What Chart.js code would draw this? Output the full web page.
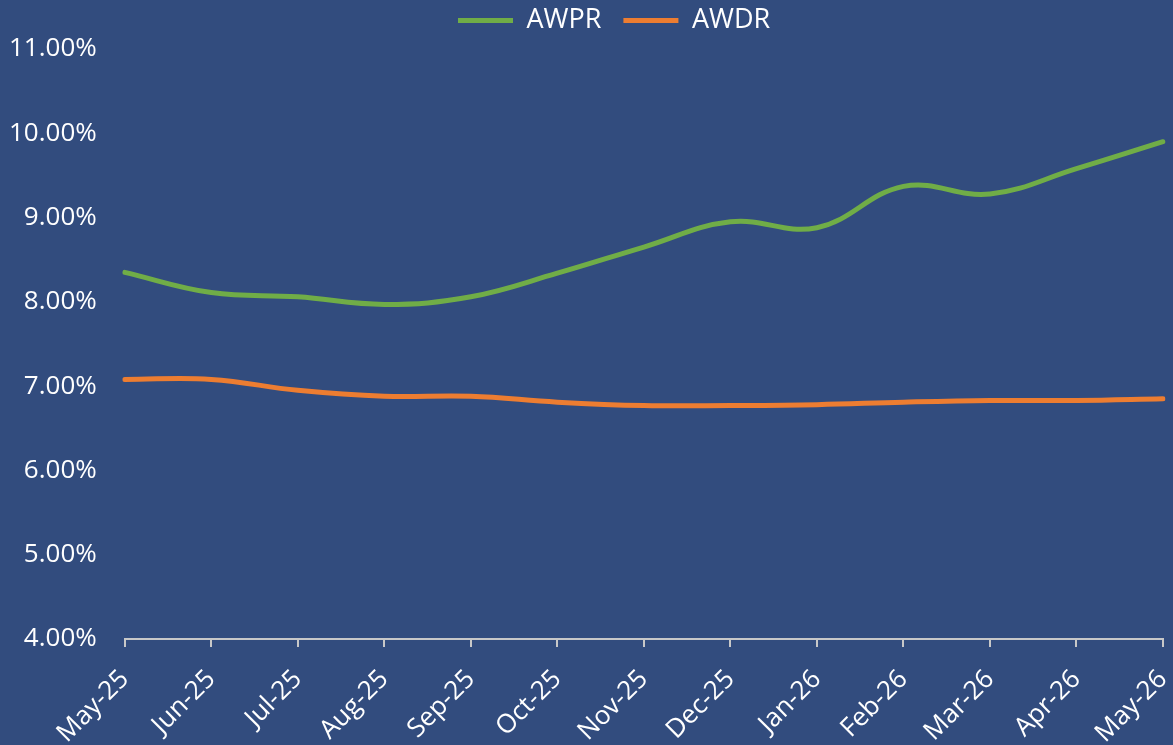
<!DOCTYPE html>
<html>
<head>
<meta charset="utf-8">
<script src="https://cdn.jsdelivr.net/npm/chart.js@4.4.1/dist/chart.umd.min.js"></script>
<style>
html,body{margin:0;padding:0;background:#324C7E;}
#wrap{width:1173px;height:745px;position:relative;}
</style>
</head>
<body>
<div id="wrap"><canvas id="c" width="1173" height="745"></canvas></div>
<script>
const categories = ["May-25","Jun-25","Jul-25","Aug-25","Sep-25","Oct-25","Nov-25","Dec-25","Jan-26","Feb-26","Mar-26","Apr-26","May-26"];
const awpr = [8.35, 8.11, 8.06, 7.97, 8.06, 8.34, 8.65, 8.95, 8.88, 9.37, 9.28, 9.58, 9.90];
const awdr = [7.08, 7.08, 6.95, 6.88, 6.88, 6.81, 6.77, 6.77, 6.78, 6.81, 6.83, 6.83, 6.85];
const yMin = 4, yMax = 11, yStep = 1;

const fontFam = "'Open Sans', 'Noto Sans', sans-serif";

const legendShift = {
  id:'legendShift',
  afterLayout(chart){
    const lg = chart.legend;
    if (!lg || !lg.lineWidths) return;
    const startNow = lg.left + (lg.width - lg.lineWidths[0]) / 2;
    const dx = 447 - startNow;
    lg.left += dx; lg.right += dx;
    lg.top -= 5; lg.bottom -= 5;
  }
};

new Chart(document.getElementById('c'), {
  type: 'line',
  data: {
    labels: categories,
    datasets: [
      {label:'AWPR', data: awpr, borderColor:'#70AD47', backgroundColor:'#70AD47', borderWidth:5, pointRadius:0, tension:0.4, borderCapStyle:'round', fill:false},
      {label:'AWDR', data: awdr, borderColor:'#ED7D31', backgroundColor:'#ED7D31', borderWidth:5, pointRadius:0, tension:0.4, borderCapStyle:'round', fill:false}
    ]
  },
  plugins:[legendShift],
  options: {
    responsive:false,
    animation:false,
    layout:{padding:{left:-19, right:10, top:-10, bottom:0}},
    plugins:{
      legend:{
        position:'top',
        labels:{
          color:'#ffffff',
          font:{family:fontFam, size:27},
          usePointStyle:true,
          pointStyle:'line',
          pointStyleWidth:55,
          padding:22
        }
      },
      tooltip:{enabled:false}
    },
    scales:{
      x:{
        offset:false,
        afterFit:(s)=>{ s.paddingRight = 0; s.paddingLeft = 0; s.height = 106; },
        grid:{display:true, drawOnChartArea:false, drawTicks:true, tickLength:8, color:'#C8C8C8', lineWidth:2},
        border:{display:true, color:'#C8C8C8', width:2},
        ticks:{color:'#ffffff', font:{family:fontFam, size:26}, maxRotation:45, minRotation:45, autoSkip:false, padding:17}
      },
      y:{
        min:yMin, max:yMax,
        grid:{display:false, drawTicks:false},
        border:{display:false},
        ticks:{stepSize:yStep, color:'#ffffff', font:{family:fontFam, size:26}, padding:28,
          callback:(v)=>v.toFixed(2)+'%'}
      }
    }
  }
});
</script>
</body>
</html>
